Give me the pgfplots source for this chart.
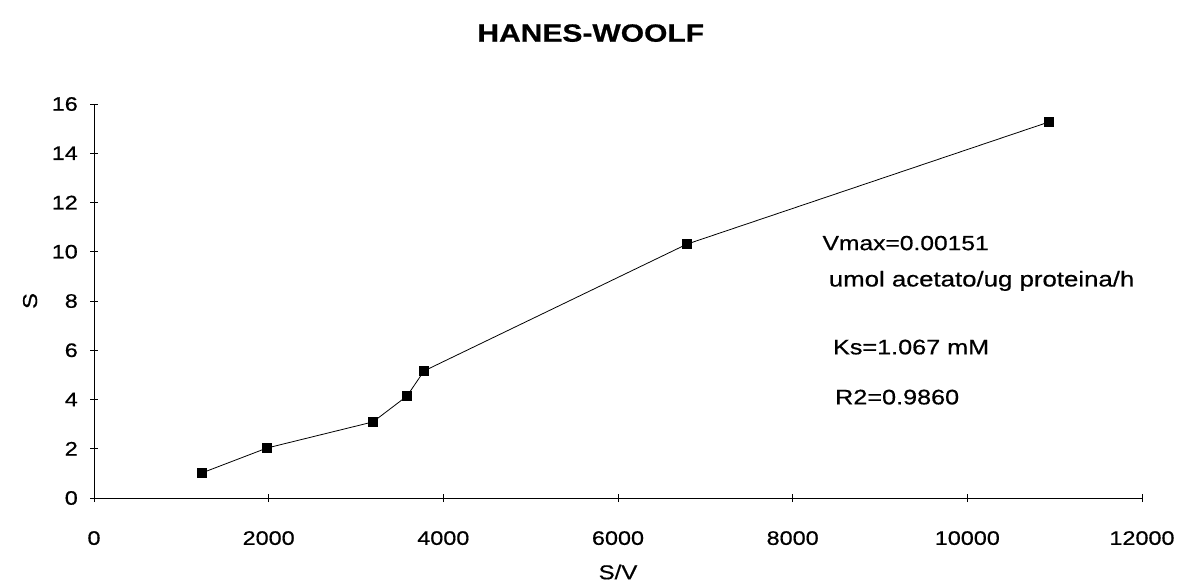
\documentclass[border=0pt]{standalone}
\usepackage{fontspec}
\setmainfont{Liberation Sans}[FakeStretch=1.2, FakeBold=0.6]
\usepackage{pgfplots}
\pgfplotsset{compat=1.18}
\begin{document}
\begin{tikzpicture}
\useasboundingbox (0,0) rectangle (1183bp,585bp);
\begin{axis}[
  at={(94bp,87bp)}, anchor=south west,
  scale only axis, width=1048bp, height=394bp,
  xmin=0, xmax=12000, ymin=0, ymax=16,
  axis x line*=bottom, axis y line*=left,
  axis line style={black, line width=0.7bp},
  xtick={0,2000,...,12000}, ytick={0,2,...,16},
  scaled x ticks=false,
  /pgf/number format/set thousands separator={},
  /pgf/number format/assume math mode=true,
  tick align=center, major tick length=8bp,
  tick style={black, line width=0.7bp},
  tick label style={font=\fontsize{19.5bp}{22bp}\selectfont, inner sep=0pt},
  xticklabel style={anchor=north, yshift=-29bp},
  yticklabel style={anchor=east, xshift=-12bp},
  xlabel={S/V}, ylabel={S},
  label style={font=\fontsize{20bp}{24bp}\selectfont},
  xlabel style={at={(axis description cs:0.5,-0.188)}, anchor=center},
  ylabel style={at={(axis description cs:-0.061,0.5)}, anchor=center, rotate=0},
  clip=false,
]
\addplot[black, line width=0.8bp, mark=square*, mark size=4.5bp, mark options={solid, fill=black}]
  coordinates {
  (1237,1.02) (1981,2.03) (3195,3.09) (3584,4.14) (3779,5.16) (6790,10.31) (10935,15.27)
  };
\node[font=\bfseries\fontsize{25bp}{29bp}\selectfont, anchor=center] at (axis description cs:0.474,1.180) {HANES-WOOLF};
\node[font=\fontsize{20.5bp}{24bp}\selectfont, anchor=west, inner sep=0pt] at (axis description cs:0.695,0.647) {Vmax=0.00151};
\node[font=\fontsize{21.5bp}{24bp}\selectfont, anchor=west, inner sep=0pt] at (axis description cs:0.701,0.551) {umol acetato/ug proteina/h};
\node[font=\fontsize{21bp}{24bp}\selectfont, anchor=west, inner sep=0pt] at (axis description cs:0.705,0.383) {Ks=1.067 mM};
\node[font=\fontsize{21bp}{24bp}\selectfont, anchor=west, inner sep=0pt] at (axis description cs:0.707,0.256) {R2=0.9860};
\end{axis}
\end{tikzpicture}
\end{document}
